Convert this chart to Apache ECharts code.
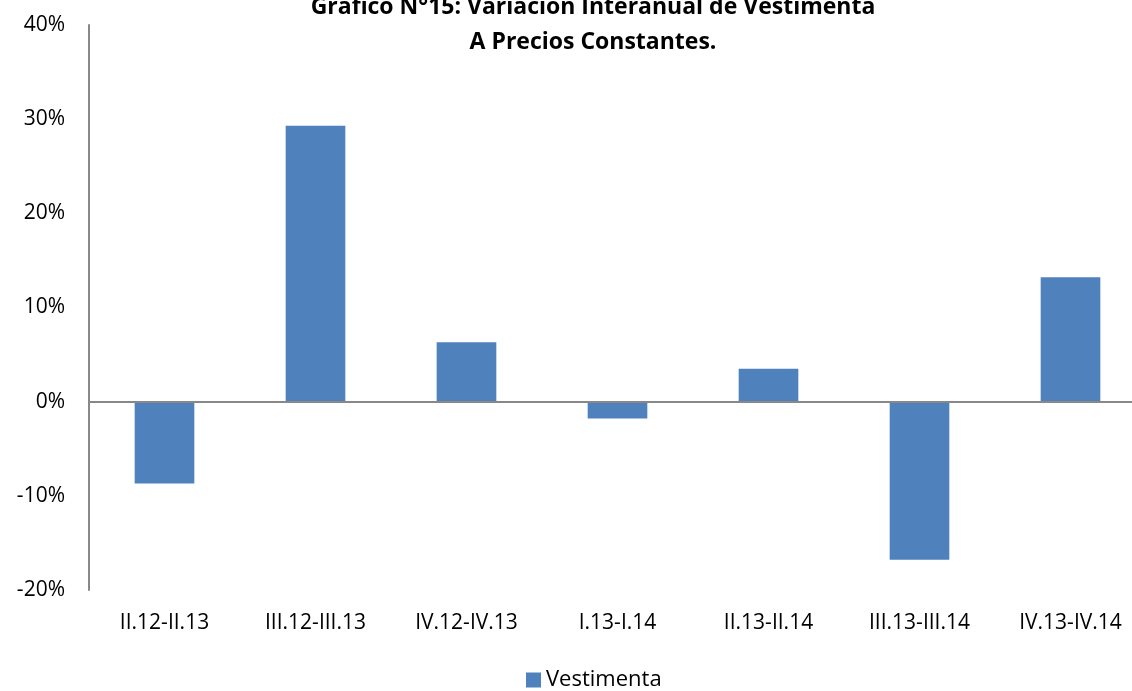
<!DOCTYPE html>
<html>
<head>
<meta charset="utf-8">
<script src="https://cdn.jsdelivr.net/npm/echarts@6/dist/echarts.min.js"></script>
<style>html,body{margin:0;padding:0;background:#fff;}#chart{width:1132px;height:691px;}</style>
</head>
<body>
<div id="chart"></div>
<script>
// periodos y variación interanual (%)
const categories = ['II.12-II.13','III.12-III.13','IV.12-IV.13','I.13-I.14','II.13-II.14','III.13-III.14','IV.13-IV.14'];
const vestimenta = [-8.7, 29.3, 6.3, -1.8, 3.5, -16.8, 13.2];
const seriesName = 'Vestimenta';
const titleText = 'Gráfico N°15: Variación Interanual de Vestimenta\nA Precios Constantes.';

const chart = echarts.init(document.getElementById('chart'));
const font = 'Open Sans';
chart.setOption({
  backgroundColor:'#fff',
  animation:false,
  title:{text:titleText,left:588,textAlign:'center',top:-15,
    textStyle:{fontFamily:font,fontSize:23,fontWeight:'bold',color:'#000',lineHeight:35}},
  legend:{top:664,left:521,itemWidth:15,itemHeight:15,itemGap:4,icon:'rect',
    textStyle:{fontFamily:font,fontSize:22,color:'#000'},data:[seriesName]},
  grid:{left:89,width:1057,top:25,bottom:101,outerBoundsMode:'none'},
  xAxis:{type:'category',data:categories,
    axisLine:{show:false},axisTick:{show:false},
    axisLabel:{margin:23,fontFamily:font,fontSize:21,color:'#000'}},
  yAxis:{type:'value',min:-20,max:40,interval:10,
    axisLine:{show:true,lineStyle:{color:'#888',width:2}},axisTick:{show:false},
    splitLine:{show:false},
    axisLabel:{formatter:'{value}%',margin:24,fontFamily:font,fontSize:21,color:'#000'}},
  series:[{name:seriesName,type:'bar',data:vestimenta,barWidth:'39.5%',
    itemStyle:{color:'#4F81BD'},
    markLine:{silent:true,symbol:'none',label:{show:false},
      lineStyle:{color:'#888',width:2,type:'solid'},data:[{yAxis:0}]}}]
});
</script>
</body>
</html>
